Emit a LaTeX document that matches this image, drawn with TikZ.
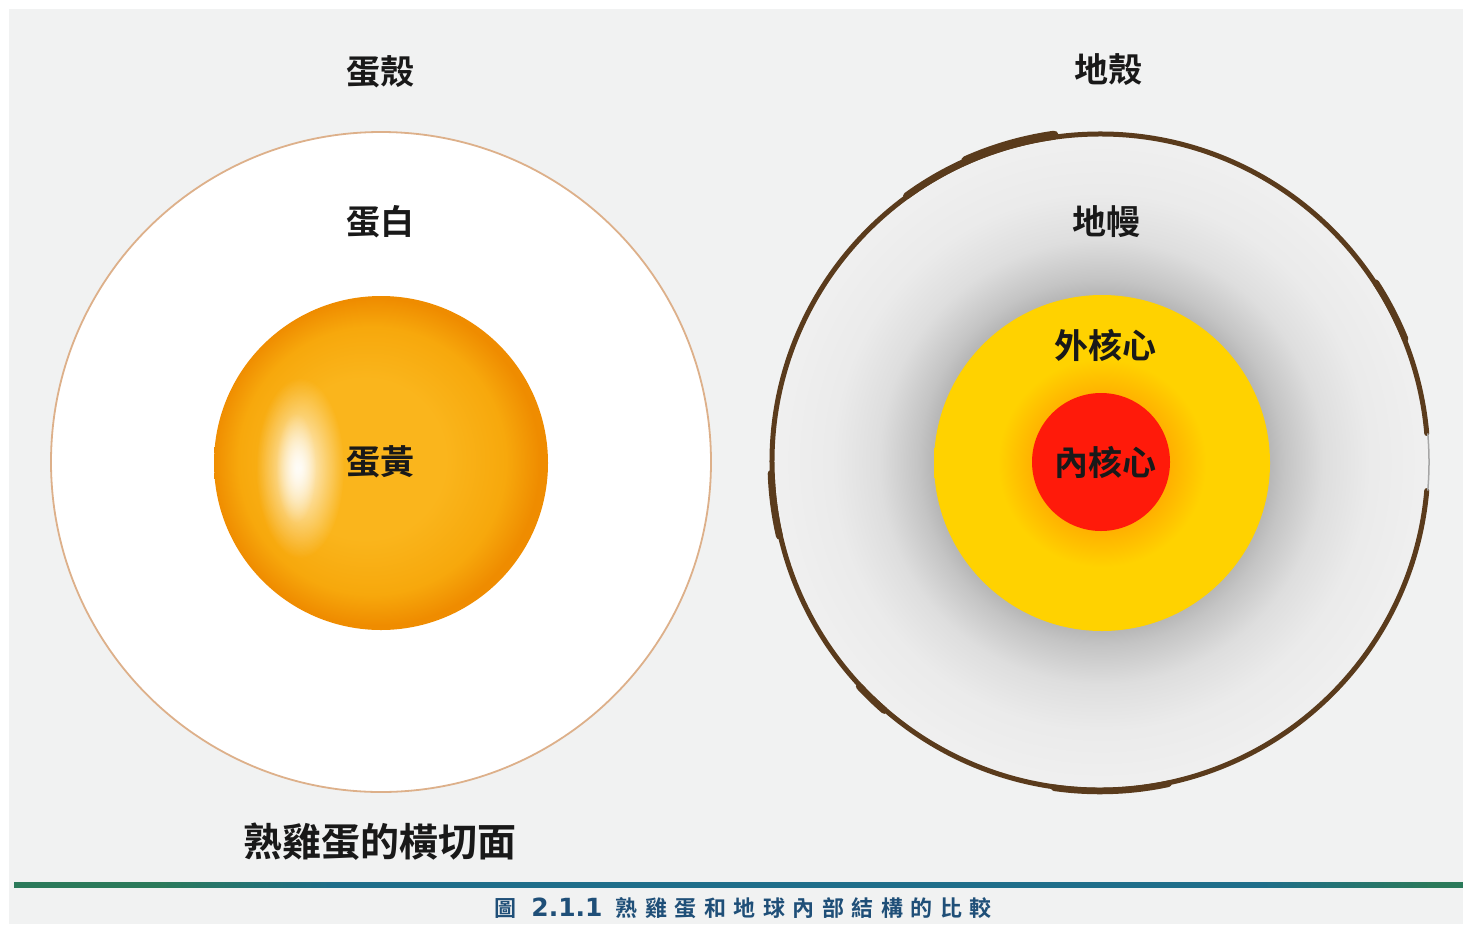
\documentclass[tikz,border=0pt]{standalone}
\usepackage{fontspec}
\usetikzlibrary{fadings}
\newfontfamily\cjk{Noto Sans CJK TC}[BoldFont={Noto Sans CJK TC Bold}]
\newfontfamily\capnum{DejaVu Sans}[BoldFont={DejaVu Sans Bold}]

\definecolor{pagegray}{HTML}{F1F2F2}
\definecolor{shellline}{HTML}{DDB08A}
\definecolor{yolkin}{HTML}{FAB51C}
\definecolor{yolkmid}{HTML}{F7A80C}
\definecolor{yolkout}{HTML}{EF8C00}
\definecolor{crustbrown}{HTML}{5A3B1C}
\definecolor{coreyellow}{HTML}{FFD200}
\definecolor{coreorange}{HTML}{FFB000}
\definecolor{corered}{HTML}{FF1A0A}
\definecolor{rulegreen}{HTML}{2B7A5A}
\definecolor{ruleblue}{HTML}{1E6E8A}
\definecolor{captionblue}{HTML}{1F4F78}

% radial shadings: the path's rim sits at 25bp
% yolk: lit from the left, darker rim
\pgfdeclareradialshading{yolkshade}{\pgfpoint{-4bp}{1bp}}{%
  color(0bp)=(yolkin); color(12bp)=(yolkin); color(20bp)=(yolkmid);
  color(24.5bp)=(yolkout); color(30bp)=(yolkout)}
% mantle: dark halo round the core, fading out towards the crust
\pgfdeclareradialshading{mantleshade}{\pgfpoint{0bp}{0bp}}{%
  color(0bp)=(black!30); color(12.5bp)=(black!30); color(14bp)=(black!23);
  color(17bp)=(black!13); color(20.5bp)=(black!8); color(25bp)=(black!6);
  color(50bp)=(black!6)}
% outer core: orange glow round the inner core
\pgfdeclareradialshading{coreshade}{\pgfpoint{0bp}{0bp}}{%
  color(0bp)=(coreorange); color(10bp)=(coreorange); color(15.5bp)=(coreyellow);
  color(50bp)=(coreyellow)}
% rule under the figure
\pgfdeclarehorizontalshading{ruleshade}{100bp}{%
  color(0bp)=(rulegreen); color(30bp)=(rulegreen); color(36bp)=(ruleblue);
  color(68bp)=(ruleblue); color(74bp)=(rulegreen); color(100bp)=(rulegreen)}

\tikzfading[name=softspot, inner color=transparent!0, outer color=transparent!100]

\tikzset{
  label/.style={font=\cjk\bfseries\fontsize{34}{38}\selectfont, text=black!90, inner sep=0pt},
  crust/.style={draw=crustbrown, line cap=round},
}

\begin{document}
\begin{tikzpicture}[x=1pt, y=-1pt]
  \useasboundingbox (0,0) rectangle (1463,924);
  \fill[white] (0,0) rectangle (1463,924);
  \fill[pagegray] (9,9) rectangle (1463,924);

  % ---- hard-boiled egg ----
  \fill[white, draw=shellline, line width=1.8pt] (381,462) circle[radius=330pt];
  \shade[shading=yolkshade] (381,463) circle[radius=167pt];
  \fill[white, path fading=softspot, opacity=0.9] (300,468) ellipse[x radius=44pt, y radius=90pt];
  \fill[white, path fading=softspot, opacity=0.8] (296,468) ellipse[x radius=20pt, y radius=55pt];

  \node[label] (shell) at (380,72) {蛋殼};
  \node[label] (white) at (380,222) {蛋白};
  \node[label] (yolk) at (380,462) {蛋黃};
  \node[font=\cjk\bfseries\fontsize{39}{42}\selectfont, text=black!90, inner sep=0pt]
    (eggtitle) at (380,842) {熟雞蛋的橫切面};

  % ---- the Earth ----
  \shade[shading=mantleshade] (1101,462) circle[radius=327pt];
  \begin{scope}[shift={(1100,462)}, x=1pt, y=1pt]
    \draw[crust, line width=5pt] (5:328pt) arc[start angle=5, end angle=355, radius=328pt];
    \draw[black!35, line width=1.5pt] (-5:329pt) arc[start angle=-5, end angle=5, radius=329pt];
    \draw[crust, line width=9pt] (98:330pt) arc[start angle=98, end angle=114, radius=330pt];
    \draw[crust, line width=7pt] (114:329pt) arc[start angle=114, end angle=126, radius=329pt];
    \draw[crust, line width=7pt] (182:329pt) arc[start angle=182, end angle=193, radius=329pt];
    \draw[crust, line width=7pt] (223:329pt) arc[start angle=223, end angle=229, radius=329pt];
    \draw[crust, line width=6.5pt] (22:329pt) arc[start angle=22, end angle=33, radius=329pt];
    \draw[crust, line width=6.5pt] (262:329pt) arc[start angle=262, end angle=282, radius=329pt];
  \end{scope}
  \shade[shading=coreshade] (1102,463) circle[radius=168pt];
  \fill[corered] (1101,462) circle[radius=69pt];

  \node[label] (crust) at (1108,70) {地殼};
  \node[label] (mantle) at (1106,222) {地幔};
  \node[label] (outercore) at (1105,345) {外核心};
  \node[label] (innercore) at (1105,462) {內核心};

  % ---- caption ----
  \shade[shading=ruleshade] (14,882.5) rectangle (1463,887.5);
  \node[text=captionblue, inner sep=0pt, font=\bfseries] (caption) at (743,908)
    {{\cjk\fontsize{22}{25}\selectfont 圖}\hspace{15pt}{\capnum\fontsize{25}{28}\selectfont 2.1.1}\hspace{13pt}%
     {\cjk\fontsize{22}{25}\selectfont 熟\hspace{7.5pt}雞\hspace{7.5pt}蛋\hspace{7.5pt}和\hspace{7.5pt}地\hspace{7.5pt}球\hspace{7.5pt}內\hspace{7.5pt}部\hspace{7.5pt}結\hspace{7.5pt}構\hspace{7.5pt}的\hspace{7.5pt}比\hspace{7.5pt}較}};
\end{tikzpicture}
\end{document}
